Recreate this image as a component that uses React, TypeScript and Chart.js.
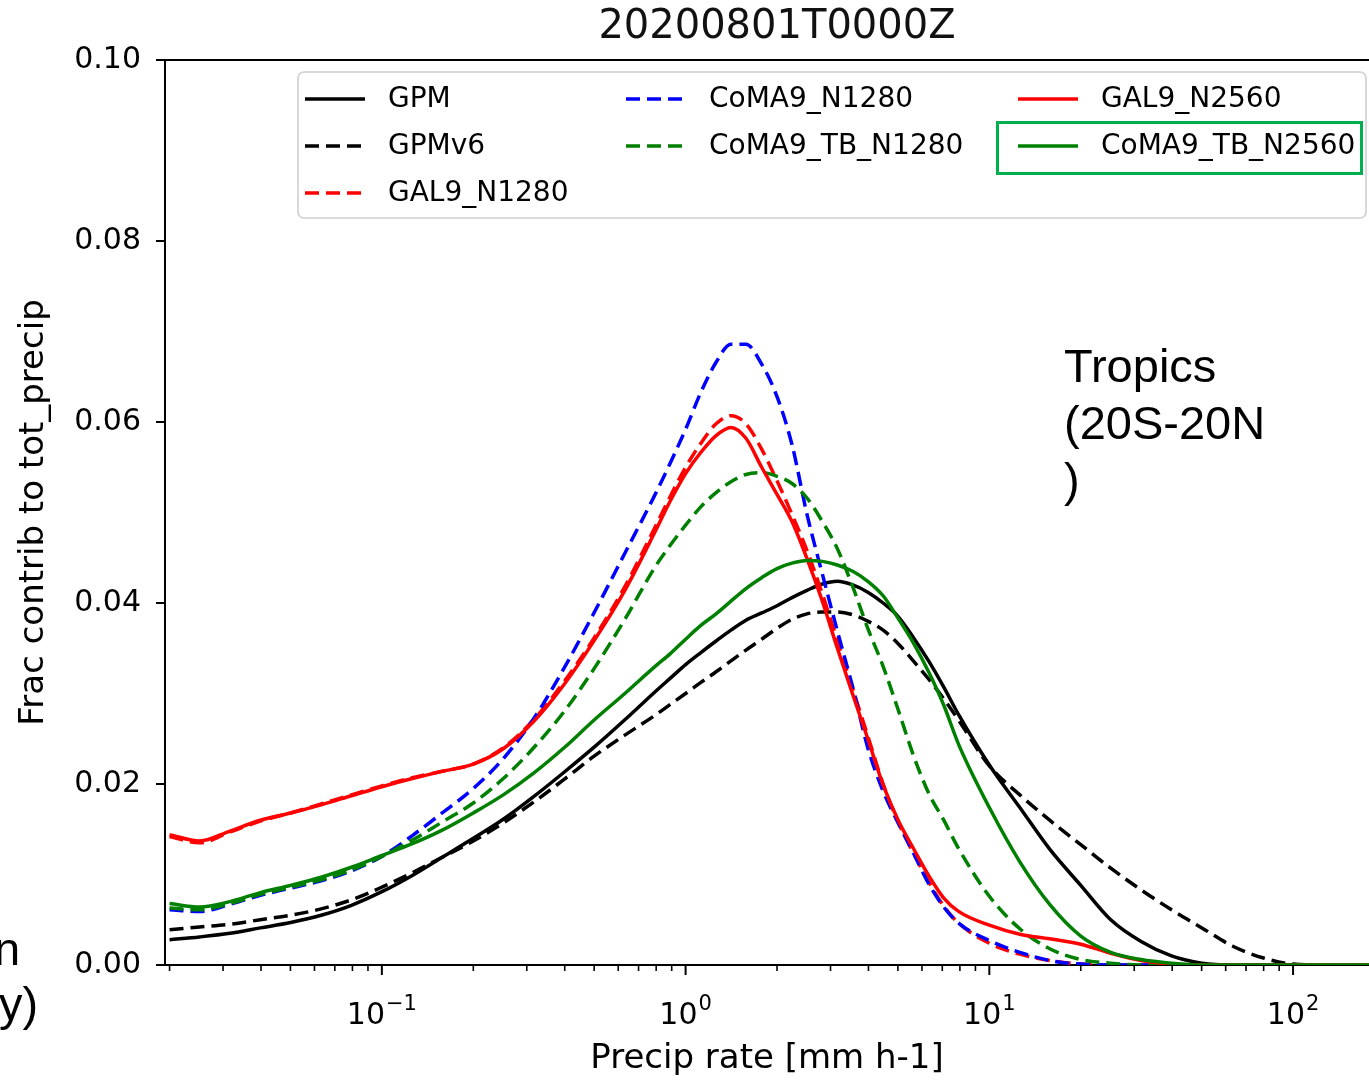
import React, { useEffect, useRef } from 'react';
import { Chart, registerables } from 'chart.js';

Chart.register(...registerables);

// ---------------- data ----------------
const precipRate = [
  0.02, 0.0251, 0.0316, 0.0398, 0.0501, 0.0631, 0.0794, 0.1, 0.126, 0.158,
  0.2, 0.251, 0.316, 0.398, 0.501, 0.631, 0.794, 0.891, 1.0, 1.12,
  1.26, 1.41, 1.58, 1.78, 2.0, 2.24, 2.51, 2.82, 3.16, 3.55,
  3.98, 4.47, 5.01, 5.62, 6.31, 7.08, 7.94, 10, 12.6, 15.8,
  20, 25.1, 31.6, 39.8, 50.1, 63.1, 79.4, 100, 126, 158, 200,
];

const gpm = [
  0.0028, 0.0031, 0.0035, 0.0041, 0.0047, 0.0055, 0.0066, 0.0081, 0.0099, 0.0119,
  0.0140, 0.0161, 0.0186, 0.0213, 0.0241, 0.0271, 0.0302, 0.0317, 0.0332, 0.0345,
  0.0358, 0.0370, 0.0381, 0.0389, 0.0397, 0.0406, 0.0414, 0.0421, 0.0424, 0.0420,
  0.0412, 0.0400, 0.0385, 0.0362, 0.0336, 0.0307, 0.0276, 0.0221, 0.0174, 0.0128,
  0.0088, 0.0050, 0.0026, 0.0010, 0.0002, 0, 0, 0, 0, 0, 0,
];

const gpmV6 = [
  0.0039, 0.0042, 0.0045, 0.0050, 0.0055, 0.0062, 0.0072, 0.0086, 0.0102, 0.0119,
  0.0137, 0.0157, 0.0180, 0.0205, 0.0231, 0.0254, 0.0276, 0.0288, 0.0300, 0.0312,
  0.0324, 0.0336, 0.0348, 0.0360, 0.0372, 0.0382, 0.0388, 0.0390, 0.0390, 0.0387,
  0.0380, 0.0370, 0.0355, 0.0336, 0.0316, 0.0294, 0.0270, 0.0220, 0.0188, 0.0160,
  0.0133, 0.0107, 0.0083, 0.0061, 0.0041, 0.0021, 0.0008, 0.0001, 0, 0, 0,
];

const gal9N1280 = [
  0.0142, 0.0135, 0.0147, 0.0159, 0.0168, 0.0178, 0.0188, 0.0198, 0.0207, 0.0214,
  0.0222, 0.0240, 0.0271, 0.0313, 0.0362, 0.0418, 0.0484, 0.0518, 0.0550, 0.0576,
  0.0598, 0.0607, 0.0598, 0.0570, 0.0535, 0.0498, 0.0458, 0.0410, 0.0358, 0.0305,
  0.0253, 0.0200, 0.0158, 0.0124, 0.0092, 0.0065, 0.0046, 0.0024, 0.0012, 0.0005,
  0.0001, 0, 0, 0, 0, 0, 0, 0, 0, 0, 0,
];

const coma9N1280 = [
  0.0061, 0.0059, 0.0067, 0.0077, 0.0085, 0.0093, 0.0104, 0.0120, 0.0143, 0.0168,
  0.0195, 0.0228, 0.0272, 0.0328, 0.0390, 0.0455, 0.0520, 0.0555, 0.0592, 0.0632,
  0.0666, 0.0686, 0.0686, 0.0664, 0.0628, 0.0575, 0.0498, 0.0432, 0.0369, 0.0307,
  0.0240, 0.0192, 0.0157, 0.0124, 0.0090, 0.0064, 0.0046, 0.0027, 0.0014, 0.0005,
  0.0001, 0, 0, 0, 0, 0, 0, 0, 0, 0, 0,
];

const coma9TbN1280 = [
  0.0063, 0.0061, 0.0068, 0.0078, 0.0086, 0.0094, 0.0105, 0.0120, 0.0138, 0.0158,
  0.0179, 0.0206, 0.0240, 0.0280, 0.0328, 0.0382, 0.0440, 0.0464, 0.0486, 0.0506,
  0.0522, 0.0534, 0.0542, 0.0544, 0.0540, 0.0532, 0.0516, 0.0490, 0.0460, 0.0418,
  0.0372, 0.0330, 0.0282, 0.0232, 0.0190, 0.0160, 0.0128, 0.0076, 0.0040, 0.0018,
  0.0006, 0.0002, 0, 0, 0, 0, 0, 0, 0, 0, 0,
];

const gal9N2560 = [
  0.0144, 0.0137, 0.0148, 0.0160, 0.0168, 0.0177, 0.0187, 0.0197, 0.0206, 0.0214,
  0.0222, 0.0239, 0.0269, 0.0310, 0.0359, 0.0414, 0.0479, 0.0513, 0.0543, 0.0566,
  0.0585, 0.0594, 0.0582, 0.0550, 0.0520, 0.0490, 0.0449, 0.0402, 0.0350, 0.0299,
  0.0250, 0.0199, 0.0160, 0.0129, 0.0099, 0.0074, 0.0059, 0.0044, 0.0034, 0.0029,
  0.0023, 0.0013, 0.0005, 0.0001, 0, 0, 0, 0, 0, 0, 0,
];

const coma9TbN2560 = [
  0.0068, 0.0064, 0.0070, 0.0080, 0.0088, 0.0097, 0.0108, 0.0121, 0.0134, 0.0149,
  0.0168, 0.0188, 0.0212, 0.0240, 0.0271, 0.0300, 0.0330, 0.0344, 0.0360, 0.0375,
  0.0388, 0.0402, 0.0416, 0.0428, 0.0438, 0.0444, 0.0447, 0.0446, 0.0442, 0.0435,
  0.0424, 0.0408, 0.0383, 0.0356, 0.0324, 0.0287, 0.0243, 0.0174, 0.0114, 0.0067,
  0.0032, 0.0014, 0.0006, 0.0002, 0, 0, 0, 0, 0, 0, 0,
];

const xMajorTicks = [0.1, 1, 10, 100];
const xTickBase = '10';
const xTickExponents = ['\u22121', '0', '1', '2'];
const yTickStep = 0.02;

const titleText = '20200801T0000Z';
const xTitle = 'Precip rate [mm h-1]';
const yTitle = 'Frac contrib to tot_precip';

const legendColumns = [
  ['GPM', 'GPMv6', 'GAL9_N1280'],
  ['CoMA9_N1280', 'CoMA9_TB_N1280'],
  ['GAL9_N2560', 'CoMA9_TB_N2560'],
];

// ---------------- styling ----------------
const FONT = "'DejaVu Sans', sans-serif";
const DASH = [14, 7];
const LW = 3.5;
const X_MIN = Math.pow(10, -1.714);
const X_MAX = Math.pow(10, 2.25);

const seriesDefs = [
  { label: 'GPM', values: gpm, color: '#000000', dash: [] as number[] },
  { label: 'GPMv6', values: gpmV6, color: '#000000', dash: DASH },
  { label: 'GAL9_N1280', values: gal9N1280, color: '#ff0000', dash: DASH },
  { label: 'CoMA9_N1280', values: coma9N1280, color: '#0000ff', dash: DASH },
  { label: 'CoMA9_TB_N1280', values: coma9TbN1280, color: '#008000', dash: DASH },
  { label: 'GAL9_N2560', values: gal9N2560, color: '#ff0000', dash: [] as number[] },
  { label: 'CoMA9_TB_N2560', values: coma9TbN2560, color: '#008000', dash: [] as number[] },
];

// minor + major tick values for the log axis
const xTickValues: number[] = [];
for (let d = -2; d <= 2; d++) {
  for (let k = 1; k <= 9; k++) {
    const v = Number((k * Math.pow(10, d)).toPrecision(6));
    if (v >= X_MIN && v <= X_MAX) xTickValues.push(v);
  }
}

const framePlugin = {
  id: 'frameTicks',
  afterDraw(chart: any) {
    const { ctx, chartArea: a, scales } = chart;
    ctx.save();
    ctx.strokeStyle = '#000';
    ctx.setLineDash([]);
    // top spine
    ctx.lineWidth = 2;
    ctx.beginPath();
    ctx.moveTo(a.left - 1, a.top);
    ctx.lineTo(a.right + 2, a.top);
    ctx.stroke();
    // x ticks
    const xs = scales.x;
    xs.ticks.forEach((t: any) => {
      const p = xs.getPixelForValue(t.value);
      if (p < a.left - 0.5 || p > a.right + 0.5) return;
      const major = xMajorTicks.indexOf(t.value) >= 0;
      ctx.lineWidth = major ? 2 : 1.6;
      ctx.beginPath();
      ctx.moveTo(p, a.bottom);
      ctx.lineTo(p, a.bottom + (major ? 10 : 6));
      ctx.stroke();
    });
    // x tick labels: base with raised exponent
    ctx.fillStyle = '#000';
    ctx.textBaseline = 'alphabetic';
    ctx.textAlign = 'left';
    xMajorTicks.forEach((v, i) => {
      const p = xs.getPixelForValue(v);
      ctx.font = `30px ${FONT}`;
      const wb = ctx.measureText(xTickBase).width;
      ctx.font = `21px ${FONT}`;
      const we = ctx.measureText(xTickExponents[i]).width;
      const x0 = p - (wb + we + 1) / 2;
      ctx.font = `30px ${FONT}`;
      ctx.fillText(xTickBase, x0, a.bottom + 59);
      ctx.font = `21px ${FONT}`;
      ctx.fillText(xTickExponents[i], x0 + wb + 1, a.bottom + 45);
    });
    // y ticks
    const ys = scales.y;
    ys.ticks.forEach((t: any) => {
      const p = ys.getPixelForValue(t.value);
      ctx.lineWidth = 2;
      ctx.beginPath();
      ctx.moveTo(a.left - 9, p);
      ctx.lineTo(a.left, p);
      ctx.stroke();
    });
    ctx.restore();
  },
};

const legendPlugin = {
  id: 'columnLegend',
  afterDraw(chart: any) {
    const { ctx } = chart;
    const box = { x: 298, y: 72, w: 1068, h: 146, r: 6 };
    const colX = [305, 626, 1018];
    const rowY = [99, 146, 193];
    ctx.save();
    ctx.beginPath();
    ctx.moveTo(box.x + box.r, box.y);
    ctx.arcTo(box.x + box.w, box.y, box.x + box.w, box.y + box.h, box.r);
    ctx.arcTo(box.x + box.w, box.y + box.h, box.x, box.y + box.h, box.r);
    ctx.arcTo(box.x, box.y + box.h, box.x, box.y, box.r);
    ctx.arcTo(box.x, box.y, box.x + box.w, box.y, box.r);
    ctx.closePath();
    ctx.fillStyle = 'rgba(255,255,255,0.85)';
    ctx.fill();
    ctx.strokeStyle = '#cfcfcf';
    ctx.lineWidth = 1.6;
    ctx.stroke();

    ctx.font = `28px ${FONT}`;
    ctx.textBaseline = 'middle';
    ctx.textAlign = 'left';
    legendColumns.forEach((col, ci) => {
      col.forEach((label, ri) => {
        const ds = chart.data.datasets.find((d: any) => d.label === label);
        if (!ds) return;
        const x = colX[ci];
        const y = rowY[ri];
        ctx.strokeStyle = ds.borderColor;
        ctx.lineWidth = LW;
        ctx.setLineDash(ds.borderDash || []);
        ctx.beginPath();
        ctx.moveTo(x, y);
        ctx.lineTo(x + 60, y);
        ctx.stroke();
        ctx.setLineDash([]);
        ctx.fillStyle = '#000';
        ctx.fillText(label, x + 83, y + 1);
      });
    });
    ctx.restore();
  },
};

export default function App() {
  const ref = useRef<HTMLCanvasElement>(null);

  useEffect(() => {
    document.body.style.margin = '0';
    Chart.defaults.font.family = FONT;
    Chart.defaults.color = '#000';
    const n = seriesDefs.length;
    const chart = new Chart(ref.current as HTMLCanvasElement, {
      type: 'line',
      data: {
        datasets: seriesDefs.map((s, i) => ({
          label: s.label,
          data: precipRate.map((x, j) => ({ x, y: s.values[j] })),
          borderColor: s.color,
          backgroundColor: s.color,
          borderDash: s.dash,
          borderWidth: LW,
          pointRadius: 0,
          fill: false,
          cubicInterpolationMode: 'monotone',
          order: n - 1 - i,
        })),
      },
      options: {
        responsive: false,
        animation: false,
        devicePixelRatio: 1,
        layout: { padding: { top: 60, left: 0, right: 0, bottom: 0 } },
        plugins: {
          legend: { display: false },
          tooltip: { enabled: false },
          title: { display: false },
        },
        scales: {
          x: {
            type: 'logarithmic',
            min: X_MIN,
            max: X_MAX,
            afterFit: (s: any) => {
              s.height = 115;
            },
            afterBuildTicks: (s: any) => {
              s.ticks = xTickValues.map((v) => ({ value: v, major: xMajorTicks.indexOf(v) >= 0 }));
            },
            grid: { display: false, drawTicks: false },
            border: { display: true, color: '#000', width: 2 },
            ticks: {
              autoSkip: false,
              maxRotation: 0,
              minRotation: 0,
              padding: 31,
              color: '#000',
              font: { size: 30, family: FONT },
              callback: () => '',
            },
            title: {
              display: true,
              text: xTitle,
              color: '#000',
              font: { size: 34, family: FONT },
              padding: { top: 0, bottom: 0 },
            },
          },
          y: {
            min: 0,
            max: 0.1,
            afterFit: (s: any) => {
              s.width = 165;
            },
            grid: { display: false, drawTicks: false },
            border: { display: true, color: '#000', width: 2 },
            ticks: {
              stepSize: yTickStep,
              padding: 24,
              color: '#000',
              font: { size: 30, family: FONT },
              callback: (v: any) => Number(v).toFixed(2),
            },
            title: {
              display: true,
              text: yTitle,
              color: '#000',
              font: { size: 34, family: FONT },
              padding: { top: 14, bottom: 0 },
            },
          },
        },
      } as any,
      plugins: [framePlugin, legendPlugin],
    });
    return () => chart.destroy();
  }, []);

  const side: React.CSSProperties = {
    position: 'absolute',
    fontFamily: "'Liberation Sans', Arial, sans-serif",
    fontSize: 47,
    lineHeight: '57px',
    color: '#000',
    whiteSpace: 'nowrap',
  };

  return (
    <div style={{ position: 'relative', width: 1369, height: 1080, overflow: 'hidden', background: '#fff' }}>
      <canvas
        ref={ref}
        width={1369}
        height={1080}
        style={{ position: 'absolute', left: 0, top: 0, width: 1369, height: 1080 }}
      />
      <div
        style={{
          position: 'absolute',
          left: 277,
          top: 4,
          width: 1000,
          textAlign: 'center',
          fontFamily: FONT,
          fontSize: 40,
          lineHeight: '40px',
          color: '#111',
        }}
      >
        {titleText}
      </div>
      <div style={{ ...side, left: 1064, top: 337 }}>
        Tropics
        <br />
        (20S-20N
        <br />)
      </div>
      <div style={{ ...side, left: -6, top: 920 }}>n</div>
      <div style={{ ...side, left: -1, top: 975 }}>y)</div>
      <div
        style={{
          position: 'absolute',
          left: 996,
          top: 121,
          width: 367,
          height: 54,
          boxSizing: 'border-box',
          border: '3.5px solid #00b050',
        }}
      />
    </div>
  );
}
